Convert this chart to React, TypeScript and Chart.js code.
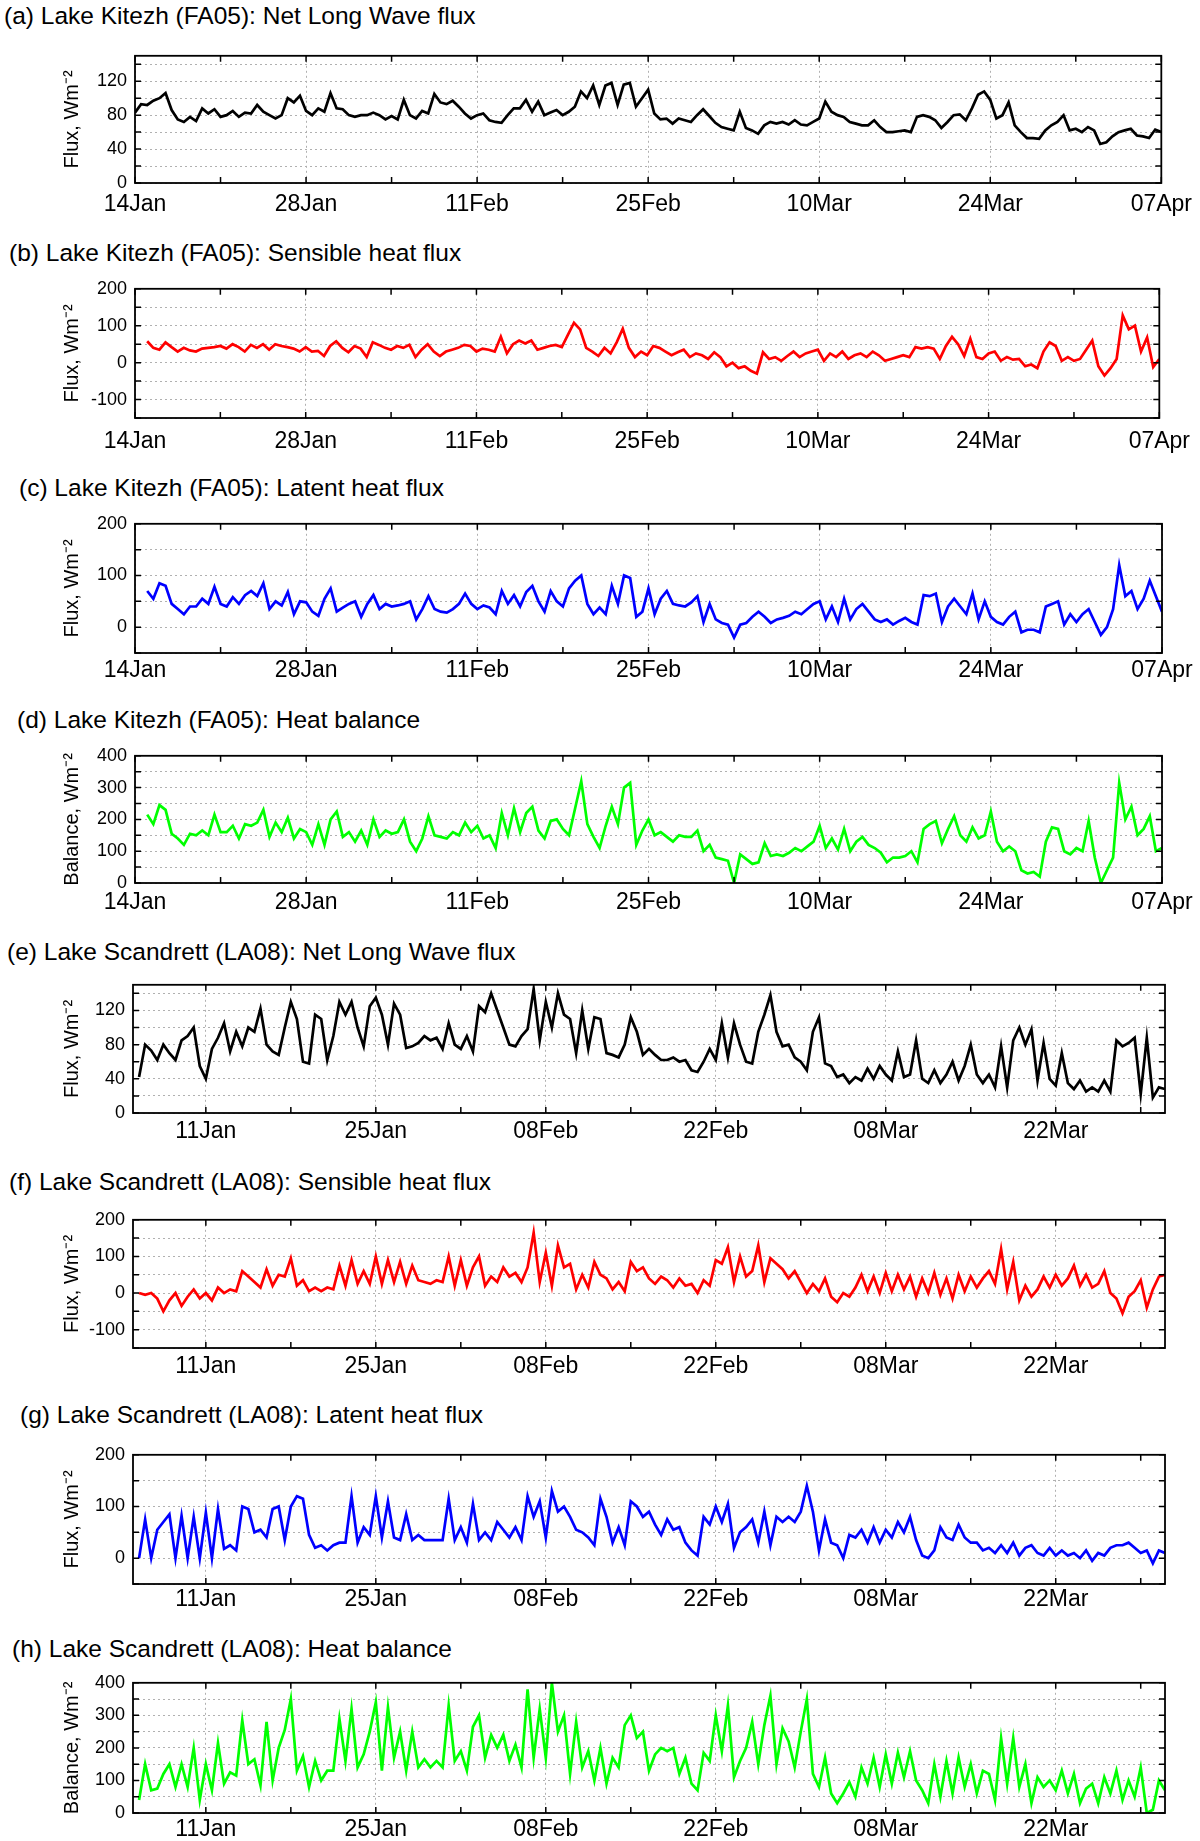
import { useEffect, useRef } from "react";
import { Chart, registerables } from "chart.js";

Chart.register(...registerables);

const FONT = "'Liberation Sans', Arial, Helvetica, sans-serif";
Chart.defaults.font.family = FONT;
Chart.defaults.color = "#000";

// labels on every second weekly tick (14 days apart)
const kitezhDates = ["14Jan", "28Jan", "11Feb", "25Feb", "10Mar", "24Mar", "07Apr"];
const scandrettDates = ["11Jan", "25Jan", "08Feb", "22Feb", "08Mar", "22Mar"];

// labelled y ticks
const lwTicks = [0, 40, 80, 120];
const sensTicks = [-100, 0, 100, 200];
const latTicks = [0, 100, 200];
const balTicks = [0, 100, 200, 300, 400];

// samples every half day; x = days since the first date label
const STEP = 0.5;
const kitezhLwStart = 0;
const kitezhStart = 1;
const scandrettStart = -5.5;

const kitezhNetLw = [
  83, 93, 92, 97, 100, 106, 86, 75, 72, 78, 73, 88, 82, 87, 78, 80, 85, 78, 83, 82,
  92, 84, 80, 76, 80, 100, 95, 103, 85, 80, 88, 84, 106, 88, 87, 80, 78, 80, 80, 83,
  80, 75, 79, 75, 98, 80, 76, 85, 82, 105, 95, 93, 97, 90, 82, 76, 80, 82, 74, 72,
  71, 80, 88, 88, 98, 84, 96, 80, 83, 86, 80, 84, 90, 108, 100, 115, 92, 115, 118, 92,
  116, 118, 90, 100, 110, 82, 75, 76, 70, 76, 74, 72, 80, 87, 79, 71, 66, 64, 62, 84,
  65, 62, 58, 68, 72, 70, 72, 69, 74, 69, 68, 72, 76, 96, 84, 80, 78, 72, 70, 68,
  68, 74, 66, 60, 60, 61, 62, 60, 78, 80, 78, 74, 65, 72, 80, 81, 74, 88, 104, 108,
  98, 76, 80, 95, 68, 60, 53, 53, 52, 62, 68, 72, 80, 62, 64, 60, 66, 62, 46, 48,
  55, 60, 62, 64, 56, 55, 53, 63, 60,
];

const kitezhSensible = [
  58, 40, 35, 55, 42, 30, 40, 33, 30, 38, 40, 42, 45, 38, 50, 42, 30, 48, 40, 50,
  35, 50, 45, 42, 38, 30, 42, 30, 32, 18, 45, 58, 40, 28, 45, 38, 15, 55, 48, 40,
  35, 45, 40, 48, 15, 35, 50, 30, 18, 30, 35, 40, 48, 45, 30, 38, 35, 30, 70, 25,
  50, 60, 52, 60, 35, 40, 45, 48, 42, 75, 108, 90, 40, 30, 18, 40, 25, 55, 92, 40,
  15, 30, 20, 45, 40, 30, 20, 28, 35, 15, 25, 20, 10, 28, 15, -10, 0, -15, -10, -22,
  -30, 28, 10, 15, 5, 18, 30, 15, 25, 30, 35, 5, 25, 15, 30, 10, 20, 25, 15, 30,
  20, 5, 10, 15, 20, 15, 42, 38, 42, 38, 10, 45, 70, 50, 18, 65, 15, 10, 25, 30,
  5, 15, 8, 10, -10, -5, -15, 30, 55, 45, 5, 15, 5, 10, 35, 60, -10, -35, -15, 10,
  128, 90, 100, 30, 68, -12, 10,
];

const kitezhLatent = [
  70, 55, 85, 80, 45, 35, 25, 40, 40, 55, 45, 78, 45, 40, 58, 45, 62, 70, 60, 85,
  35, 50, 42, 68, 25, 50, 48, 30, 22, 55, 75, 30, 38, 45, 50, 20, 45, 62, 35, 45,
  40, 42, 45, 50, 15, 35, 60, 35, 30, 28, 35, 45, 65, 45, 35, 42, 38, 25, 70, 45,
  62, 40, 68, 80, 50, 30, 70, 50, 40, 75, 90, 100, 45, 25, 38, 25, 80, 45, 100, 95,
  20, 30, 75, 25, 55, 70, 45, 42, 40, 48, 60, 10, 45, 15, 8, 5, -20, 5, 8, 20,
  30, 20, 8, 15, 18, 22, 30, 25, 35, 45, 50, 15, 40, 10, 55, 15, 35, 45, 30, 15,
  10, 15, 5, 12, 18, 10, 5, 62, 60, 65, 10, 40, 55, 40, 25, 65, 15, 50, 20, 10,
  5, 20, 30, -10, -5, -5, -10, 40, 45, 50, 5, 25, 10, 25, 35, 10, -15, 0, 35, 120,
  60, 70, 35, 55, 90, 60, 30,
];

const kitezhBalance = [
  215, 185, 245, 230, 155, 140, 120, 155, 150, 165, 150, 215, 160, 160, 180, 140, 185, 180, 190, 230,
  145, 190, 160, 205, 140, 170, 160, 120, 185, 120, 200, 225, 145, 160, 130, 165, 120, 200, 145, 165,
  155, 160, 200, 130, 100, 140, 210, 150, 145, 140, 160, 150, 190, 160, 180, 140, 150, 110, 220, 150,
  235, 160, 220, 240, 165, 140, 195, 200, 170, 150, 235, 320, 185, 145, 110, 180, 240, 185, 300, 315,
  120, 165, 200, 150, 160, 145, 130, 150, 145, 145, 165, 100, 120, 80, 75, 70, 0, 90, 75, 60,
  65, 125, 85, 90, 85, 95, 110, 100, 115, 130, 180, 110, 140, 105, 170, 100, 130, 145, 120, 110,
  95, 65, 80, 80, 85, 100, 65, 170, 185, 195, 125, 170, 210, 150, 130, 175, 140, 150, 225, 130,
  100, 115, 100, 40, 30, 35, 20, 130, 175, 170, 100, 90, 110, 100, 195, 80, 0, 40, 80, 315,
  200, 240, 150, 170, 210, 100, 110,
];

const scandrettNetLw = [
  42, 80, 73, 62, 80, 70, 62, 85, 90, 100, 55, 40, 75, 88, 105, 72, 95, 78, 100, 95,
  122, 80, 72, 68, 100, 130, 110, 60, 58, 115, 110, 62, 90, 130, 115, 130, 100, 78, 125, 135,
  115, 80, 128, 115, 76, 78, 82, 90, 85, 88, 75, 105, 80, 75, 90, 72, 125, 118, 140, 120,
  100, 80, 78, 90, 98, 145, 85, 130, 100, 140, 115, 110, 70, 120, 75, 112, 110, 70, 68, 65,
  80, 112, 95, 68, 75, 68, 62, 62, 65, 60, 62, 50, 48, 60, 75, 62, 105, 65, 105, 80,
  60, 58, 95, 115, 138, 95, 78, 80, 65, 60, 50, 95, 112, 58, 55, 42, 45, 35, 42, 38,
  52, 40, 55, 45, 38, 72, 42, 45, 85, 40, 35, 50, 35, 45, 60, 38, 55, 80, 45, 35,
  45, 30, 78, 30, 85, 100, 80, 98, 38, 82, 40, 32, 70, 35, 28, 38, 25, 30, 25, 38,
  25, 85, 78, 82, 88, 22, 88, 18, 30, 28,
];

const scandrettSensible = [
  0, -5, 0, -15, -50, -20, 0, -35, -10, 10, -15, 0, -20, 15, 0, 10, 5, 60, 45, 30,
  15, 65, 20, 50, 45, 95, 20, 35, 5, 15, 5, 15, 10, 75, 20, 90, 25, 60, 25, 100,
  25, 90, 30, 85, 25, 75, 35, 30, 25, 35, 30, 100, 20, 90, 20, 70, 100, 20, 45, 30,
  70, 45, 55, 30, 70, 165, 30, 110, 20, 130, 70, 80, 10, 50, 15, 85, 50, 40, 10, 30,
  5, 85, 60, 70, 40, 25, 45, 35, 15, 40, 20, 25, 0, 35, 20, 90, 80, 125, 30, 100,
  45, 60, 130, 30, 95, 80, 65, 40, 60, 30, 0, 25, 5, 40, -10, -25, 0, -10, 15, 50,
  5, 45, 0, 55, 5, 50, 10, 45, -10, 40, 0, 55, -5, 40, -15, 50, 5, 45, 15, 40,
  60, 25, 120, 10, 85, -20, 20, -10, 10, 45, 15, 50, 20, 40, 75, 20, 50, 15, 25, 60,
  0, -15, -55, -10, 5, 35, -40, 10, 45, 50,
];

const scandrettLatent = [
  0, 75, 0, 55, 70, 85, 0, 82, 0, 80, 0, 88, 0, 95, 18, 25, 15, 100, 95, 50,
  55, 40, 95, 100, 35, 100, 120, 115, 45, 20, 25, 15, 25, 30, 30, 120, 30, 60, 45, 120,
  40, 110, 40, 35, 85, 35, 45, 35, 35, 35, 35, 115, 35, 60, 30, 105, 35, 50, 35, 70,
  55, 40, 60, 35, 120, 80, 110, 40, 130, 90, 100, 80, 55, 50, 40, 25, 115, 80, 30, 60,
  25, 110, 100, 80, 90, 65, 45, 75, 55, 60, 30, 15, 5, 80, 65, 100, 70, 105, 20, 50,
  60, 75, 30, 90, 25, 80, 70, 80, 70, 90, 140, 90, 15, 75, 30, 25, 0, 45, 40, 55,
  30, 60, 30, 55, 40, 70, 50, 80, 35, 5, 0, 15, 60, 40, 35, 65, 40, 30, 30, 15,
  20, 10, 25, 10, 30, 5, 20, 25, 10, 5, 20, 5, 15, 5, 10, 0, 15, -5, 10, 5,
  20, 25, 25, 30, 20, 10, 15, -10, 15, 10,
];

const scandrettBalance = [
  40, 150, 70, 75, 120, 150, 80, 150, 80, 200, 40, 150, 70, 215, 90, 125, 115, 285, 150, 165,
  85, 280, 100, 200, 255, 350, 130, 175, 80, 160, 100, 130, 130, 290, 160, 320, 140, 180, 250, 340,
  130, 325, 170, 250, 130, 250, 140, 165, 140, 160, 140, 330, 160, 190, 130, 265, 300, 170, 240, 200,
  240, 160, 210, 140, 380, 170, 320, 170, 400, 250, 300, 120, 280, 140, 190, 100, 200, 90, 170, 140,
  270, 300, 230, 250, 130, 180, 200, 190, 200, 120, 170, 90, 70, 185, 160, 300, 190, 330, 110, 160,
  200, 280, 150, 270, 360, 150, 260, 220, 140, 250, 350, 120, 80, 170, 60, 30, 60, 95, 50, 140,
  90, 170, 80, 180, 90, 185, 110, 190, 100, 70, 30, 150, 50, 160, 60, 170, 80, 150, 60, 130,
  120, 40, 230, 90, 230, 80, 150, 30, 110, 80, 100, 70, 130, 60, 120, 30, 75, 90, 30, 110,
  60, 130, 40, 100, 50, 140, 0, 10, 100, 70,
];

const GRID = "#b0b0b0";
const PAD_TOP = 14;
const AXIS_H = 45;
const TICK = 6;

const framePlugin = {
  id: "frame",
  afterDraw(chart: any) {
    const { ctx, chartArea: a, scales } = chart;
    ctx.save();
    ctx.strokeStyle = "#000";
    ctx.lineWidth = 1.5;
    ctx.beginPath();
    for (const t of scales.x.ticks) {
      const px = scales.x.getPixelForValue(t.value);
      ctx.moveTo(px, a.bottom);
      ctx.lineTo(px, a.bottom - TICK);
      ctx.moveTo(px, a.top);
      ctx.lineTo(px, a.top + TICK);
    }
    for (const t of scales.y.ticks) {
      const py = scales.y.getPixelForValue(t.value);
      ctx.moveTo(a.left, py);
      ctx.lineTo(a.left + TICK, py);
      ctx.moveTo(a.right, py);
      ctx.lineTo(a.right - TICK, py);
    }
    ctx.stroke();
    ctx.lineWidth = 1.8;
    ctx.strokeRect(a.left, a.top, a.right - a.left, a.bottom - a.top);
    ctx.restore();
  },
};

interface PanelProps {
  title: string;
  titleLeft: number;
  titleMid: number;
  top: number;
  bottom: number;
  left: number;
  right: number;
  values: number[];
  start: number;
  color: string;
  yMin: number;
  yMax: number;
  yStep: number;
  yLabels: number[];
  yTitle: string;
  xMin: number;
  xMax: number;
  xLabels: string[];
  labelGap: number;
}

function Panel(p: PanelProps) {
  const canvasRef = useRef<HTMLCanvasElement>(null);
  const height = p.bottom - p.top + PAD_TOP + AXIS_H;

  useEffect(() => {
    if (!canvasRef.current) return;
    const chart = new Chart(canvasRef.current, {
      type: "line",
      data: {
        datasets: [
          {
            data: p.values.map((y, i) => ({ x: p.start + i * STEP, y })),
            borderColor: p.color,
            borderWidth: 2.7,
            pointRadius: 0,
            tension: 0,
            fill: false,
          },
        ],
      },
      options: {
        animation: false,
        responsive: false,
        events: [],
        layout: { padding: { top: PAD_TOP, right: 1200 - p.right, left: 0, bottom: 0 } },
        plugins: { legend: { display: false }, tooltip: { enabled: false } },
        scales: {
          x: {
            type: "linear",
            min: p.xMin,
            max: p.xMax,
            ticks: {
              stepSize: 7,
              includeBounds: false,
              autoSkip: false,
              maxRotation: 0,
              padding: p.labelGap - 1,
              font: { size: 23 },
              callback: (v: any) => (v % 14 === 0 ? p.xLabels[v / 14] ?? "" : ""),
            },
            grid: {
              color: (c: any) => (c.tick && c.tick.value % 14 === 0 ? GRID : "rgba(0,0,0,0)"),
              lineWidth: 1,
              drawTicks: false,
            },
            border: { display: false, dash: [2, 3] },
            afterFit: (s: any) => {
              s.height = AXIS_H;
            },
          },
          y: {
            type: "linear",
            min: p.yMin,
            max: p.yMax,
            ticks: {
              stepSize: p.yStep,
              includeBounds: false,
              autoSkip: false,
              padding: 8,
              font: { size: 18 },
              callback: (v: any) => (p.yLabels.includes(v) ? String(v) : ""),
            },
            grid: { color: GRID, lineWidth: 1, drawTicks: false },
            border: { display: false, dash: [2, 3] },
            title: {
              display: true,
              text: p.yTitle,
              font: { size: 20 },
              padding: { top: 60, bottom: 0 },
            },
            afterFit: (s: any) => {
              s.width = p.left;
            },
          },
        },
      },
      plugins: [framePlugin],
    } as any);
    return () => {
      chart.destroy();
    };
  }, []);

  return (
    <>
      <div
        style={{
          position: "absolute",
          left: p.titleLeft,
          top: p.titleMid - 12,
          fontFamily: FONT,
          fontSize: 24.5,
          lineHeight: "24.5px",
          whiteSpace: "nowrap",
          color: "#000",
        }}
      >
        {p.title}
      </div>
      <canvas
        ref={canvasRef}
        width={1200}
        height={height}
        style={{ position: "absolute", left: 0, top: p.top - PAD_TOP, width: 1200, height }}
      />
    </>
  );
}

const kitezhAxis = { left: 135, right: 1162, xMin: 0, xMax: 84, xLabels: kitezhDates };
const scandrettAxis = { left: 133, right: 1165, xMin: -6, xMax: 79, xLabels: scandrettDates };

export default function App() {
  return (
    <div
      style={{
        position: "absolute",
        left: 0,
        top: 0,
        width: 1200,
        height: 1841,
        background: "#fff",
        overflow: "hidden",
      }}
    >
      <Panel
        title="(a) Lake Kitezh (FA05): Net Long Wave flux"
        titleLeft={4}
        titleMid={16}
        top={51}
        bottom={183}
        {...kitezhAxis}
        values={kitezhNetLw}
        start={kitezhLwStart}
        color="#000000"
        yMin={0}
        yMax={150}
        yStep={20}
        yLabels={lwTicks}
        yTitle="Flux, Wm⁻²"
        labelGap={9}
      />
      <Panel
        title="(b) Lake Kitezh (FA05): Sensible heat flux"
        titleLeft={9}
        titleMid={253}
        top={284}
        bottom={418}
        {...kitezhAxis}
        values={kitezhSensible}
        start={kitezhStart}
        color="#ff0000"
        yMin={-150}
        yMax={200}
        yStep={50}
        yLabels={sensTicks}
        yTitle="Flux, Wm⁻²"
        labelGap={11}
      />
      <Panel
        title="(c) Lake Kitezh (FA05): Latent heat flux"
        titleLeft={19}
        titleMid={488}
        top={519}
        bottom={653}
        {...kitezhAxis}
        values={kitezhLatent}
        start={kitezhStart}
        color="#0000ff"
        yMin={-50}
        yMax={200}
        yStep={50}
        yLabels={latTicks}
        yTitle="Flux, Wm⁻²"
        labelGap={5}
      />
      <Panel
        title="(d) Lake Kitezh (FA05): Heat balance"
        titleLeft={17}
        titleMid={720}
        top={751}
        bottom={883}
        {...kitezhAxis}
        values={kitezhBalance}
        start={kitezhStart}
        color="#00ff00"
        yMin={0}
        yMax={400}
        yStep={50}
        yLabels={balTicks}
        yTitle="Balance, Wm⁻²"
        labelGap={7}
      />
      <Panel
        title="(e) Lake Scandrett (LA08): Net Long Wave flux"
        titleLeft={7}
        titleMid={952}
        top={980}
        bottom={1113}
        {...scandrettAxis}
        values={scandrettNetLw}
        start={scandrettStart}
        color="#000000"
        yMin={0}
        yMax={150}
        yStep={20}
        yLabels={lwTicks}
        yTitle="Flux, Wm⁻²"
        labelGap={6}
      />
      <Panel
        title="(f) Lake Scandrett (LA08): Sensible heat flux"
        titleLeft={9}
        titleMid={1182}
        top={1215}
        bottom={1348}
        {...scandrettAxis}
        values={scandrettSensible}
        start={scandrettStart}
        color="#ff0000"
        yMin={-150}
        yMax={200}
        yStep={50}
        yLabels={sensTicks}
        yTitle="Flux, Wm⁻²"
        labelGap={6}
      />
      <Panel
        title="(g) Lake Scandrett (LA08): Latent heat flux"
        titleLeft={20}
        titleMid={1415}
        top={1450}
        bottom={1584}
        {...scandrettAxis}
        values={scandrettLatent}
        start={scandrettStart}
        color="#0000ff"
        yMin={-50}
        yMax={200}
        yStep={50}
        yLabels={latTicks}
        yTitle="Flux, Wm⁻²"
        labelGap={3}
      />
      <Panel
        title="(h) Lake Scandrett (LA08): Heat balance"
        titleLeft={12}
        titleMid={1649}
        top={1678}
        bottom={1813}
        {...scandrettAxis}
        values={scandrettBalance}
        start={scandrettStart}
        color="#00ff00"
        yMin={0}
        yMax={400}
        yStep={50}
        yLabels={balTicks}
        yTitle="Balance, Wm⁻²"
        labelGap={4}
      />
    </div>
  );
}
